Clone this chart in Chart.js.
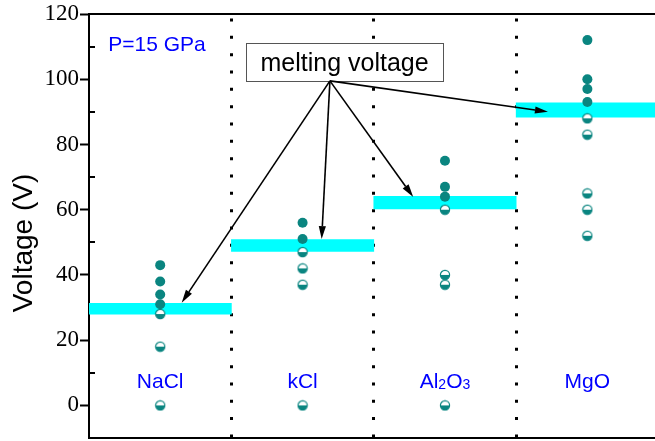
<!DOCTYPE html>
<html>
<head>
<meta charset="utf-8">
<script src="https://cdn.jsdelivr.net/npm/chart.js@4/dist/chart.umd.min.js"></script>
<style>
  html, body { margin: 0; padding: 0; background: #ffffff; }
  #wrap { width: 655px; height: 441px; }
</style>
</head>
<body>
<div id="wrap"><canvas id="chart" width="655" height="441"></canvas></div>
<script>
// Samples per material, split by whether the run was above or below melting
const categories = ['NaCl', 'kCl', 'Al2O3', 'MgO'];
const aboveMelting = [[43, 38, 34, 31], [56, 51], [75, 67, 64], [112, 100, 97, 93]];
const belowMelting = [[28, 18, 0], [47, 42, 37, 0], [60, 40, 37, 0], [88, 83, 65, 60, 52]];
// Melting-voltage band for each material (low / high edge, V)
const meltLow = [28, 47.2, 60.2, 88.4];
const meltHigh = [31.3, 50.8, 64.1, 92.8];
// Axis ticks
const yTickValues = [0, 20, 40, 60, 80, 100, 120];
const yMinorValues = [10, 30, 50, 70, 90, 110];
const dividerValues = [1, 2, 3];
// Annotation: "melting voltage" callout box and arrow tips (data units)
const calloutText = 'melting voltage';
const calloutBox = { left: 1.103, right: 2.486, top: 111.1, bottom: 99.5 };
const arrowStart = { x: 1.692, y: 99.5 };
const arrowTipX = [0.651, 1.634, 2.277, 3.223];
const arrowTipY = [31.5, 51, 63.9, 90];
const pressureText = 'P=15 GPa';

const TEAL = '#0a8580';
const CYAN = '#00ffff';
const BLUE = '#0000ff';

// Half-filled marker: white upper half, teal lower half, teal rim
function halfMarker() {
  const c = document.createElement('canvas');
  c.width = 12; c.height = 12;
  const g = c.getContext('2d');
  const r = 4.6;
  g.fillStyle = '#ffffff';
  g.beginPath(); g.arc(6, 6, r, Math.PI, 2 * Math.PI); g.fill();
  g.fillStyle = TEAL;
  g.beginPath(); g.arc(6, 6, r, 0, Math.PI); g.closePath(); g.fill();
  g.strokeStyle = TEAL; g.lineWidth = 1.2;
  g.beginPath(); g.arc(6, 6, r, 0, 2 * Math.PI); g.stroke();
  return c;
}

function toPoints(groups) {
  const pts = [];
  groups.forEach((vals, i) => vals.forEach(v => pts.push({ x: i + 0.5, y: v })));
  return pts;
}

const bandData = categories.map((_, i) => ({ x: i + 0.5, y: [meltLow[i], meltHigh[i]] }));

function drawArrow(ctx, x1, y1, x2, y2) {
  const ang = Math.atan2(y2 - y1, x2 - x1);
  const len = 13, half = 3.6;
  const bx = x2 - len * Math.cos(ang), by = y2 - len * Math.sin(ang);
  ctx.beginPath(); ctx.moveTo(x1, y1); ctx.lineTo(bx, by); ctx.stroke();
  ctx.beginPath();
  ctx.moveTo(x2, y2);
  ctx.lineTo(bx + half * Math.sin(ang), by - half * Math.cos(ang));
  ctx.lineTo(bx - half * Math.sin(ang), by + half * Math.cos(ang));
  ctx.closePath(); ctx.fill();
}

// Draws a chemical formula with digits as subscripts, centred on cx
function drawFormula(ctx, text, cx, baseY, size) {
  const parts = text.match(/[A-Za-z]+|\d+/g);
  const big = size + 'px "Liberation Sans", Arial, sans-serif';
  const small = Math.round(size * 0.66) + 'px "Liberation Sans", Arial, sans-serif';
  let total = 0;
  parts.forEach(p => { ctx.font = /\d/.test(p) ? small : big; total += ctx.measureText(p).width; });
  let x = cx - total / 2;
  ctx.textAlign = 'left';
  ctx.textBaseline = 'alphabetic';
  parts.forEach(p => {
    const sub = /\d/.test(p);
    ctx.font = sub ? small : big;
    ctx.fillText(p, x, baseY + (sub ? 1.5 : 0));
    x += ctx.measureText(p).width;
  });
}

const annotations = {
  id: 'annotations',
  beforeDatasetsDraw(chart) {
    // minor ticks pointing into the plot
    const { ctx, scales: { y } } = chart;
    ctx.save();
    ctx.strokeStyle = '#000'; ctx.lineWidth = 2;
    yMinorValues.forEach(v => {
      const py = Math.round(y.getPixelForValue(v));
      ctx.beginPath(); ctx.moveTo(chart.chartArea.left, py); ctx.lineTo(chart.chartArea.left + 6, py); ctx.stroke();
    });
    ctx.restore();
  },
  afterDatasetsDraw(chart) {
    const { ctx, scales: { x, y }, chartArea } = chart;
    ctx.save();
    // category names
    ctx.fillStyle = BLUE;
    categories.forEach((name, i) => drawFormula(ctx, name, x.getPixelForValue(i + 0.5), y.getPixelForValue(5.4), 21));
    // pressure note
    ctx.font = '21px "Liberation Sans", Arial, sans-serif';
    ctx.textAlign = 'left'; ctx.textBaseline = 'alphabetic';
    ctx.fillText(pressureText, x.getPixelForValue(0.135), y.getPixelForValue(108.7));
    // callout box
    const bl = x.getPixelForValue(calloutBox.left), br = x.getPixelForValue(calloutBox.right);
    const bt = y.getPixelForValue(calloutBox.top), bb = y.getPixelForValue(calloutBox.bottom);
    ctx.fillStyle = '#ffffff';
    ctx.fillRect(bl, bt, br - bl, bb - bt);
    ctx.strokeStyle = '#555555'; ctx.lineWidth = 1;
    ctx.strokeRect(Math.round(bl) + 0.5, Math.round(bt) + 0.5, Math.round(br - bl), Math.round(bb - bt));
    ctx.fillStyle = '#000000';
    ctx.font = '25px "Liberation Sans", Arial, sans-serif';
    ctx.textAlign = 'center';
    ctx.fillText(calloutText, (bl + br) / 2, bb - 9.5);
    // arrows
    ctx.strokeStyle = '#000'; ctx.fillStyle = '#000'; ctx.lineWidth = 1.6;
    const sx = x.getPixelForValue(arrowStart.x), sy = y.getPixelForValue(arrowStart.y);
    arrowTipX.forEach((tx, i) => drawArrow(ctx, sx, sy, x.getPixelForValue(tx), y.getPixelForValue(arrowTipY[i])));
    // y-axis title
    ctx.translate(32, (chartArea.top + chartArea.bottom) / 2 + 17);
    ctx.rotate(-Math.PI / 2);
    ctx.font = '28px "Liberation Sans", Arial, sans-serif';
    ctx.textAlign = 'center'; ctx.textBaseline = 'alphabetic';
    ctx.fillText('Voltage (V)', 0, 0);
    ctx.restore();
  }
};

new Chart(document.getElementById('chart'), {
  type: 'bar',
  data: {
    datasets: [
      { type: 'scatter', data: toPoints(aboveMelting), backgroundColor: TEAL, borderColor: TEAL,
        pointRadius: 5, pointBorderWidth: 0, order: 1 },
      { type: 'scatter', data: toPoints(belowMelting), pointStyle: halfMarker(), order: 2 },
      { type: 'bar', data: bandData, backgroundColor: CYAN, borderWidth: 0,
        barPercentage: 1, categoryPercentage: 1, order: 3 }
    ]
  },
  options: {
    responsive: false,
    animation: false,
    devicePixelRatio: 1,
    layout: { autoPadding: false, padding: { left: 0, right: 0, top: 14, bottom: 3 } },
    plugins: { legend: { display: false }, tooltip: { enabled: false } },
    scales: {
      x: {
        type: 'linear', position: 'bottom', min: 0, max: 3.975, offset: false,
        ticks: { display: false, stepSize: 1 },
        afterBuildTicks: s => { s.ticks = [0, ...dividerValues].map(v => ({ value: v })); },
        grid: {
          offset: false,
          drawTicks: false,
          color: c => dividerValues.includes(c.tick && c.tick.value) ? '#000' : 'rgba(0,0,0,0)',
          lineWidth: 3
        },
        border: { display: true, color: '#000', width: 2, dash: [3, 14.33], dashOffset: 12.8 },
        afterFit: s => { s.height = 0; s.paddingLeft = s.paddingRight = 0; }
      },
      xTop: {
        type: 'linear', position: 'top', min: 0, max: 3.975, offset: false,
        ticks: { display: false }, grid: { display: false, drawTicks: false, offset: false },
        border: { display: true, color: '#000', width: 2 },
        afterFit: s => { s.height = 0; s.paddingLeft = s.paddingRight = 0; }
      },
      y: {
        min: -10, max: 120,
        afterBuildTicks: s => { s.ticks = yTickValues.map(v => ({ value: v })); },
        ticks: { color: '#000', padding: 1, font: { family: '"Liberation Serif", "Times New Roman", serif', size: 23 } },
        grid: { drawOnChartArea: false, drawTicks: true, tickLength: 9, tickColor: '#000', tickWidth: 2 },
        border: { display: true, color: '#000', width: 2 },
        afterFit: s => { s.width = 89; s.paddingTop = s.paddingBottom = 0; }
      }
    }
  },
  plugins: [annotations]
});
</script>
</body>
</html>
